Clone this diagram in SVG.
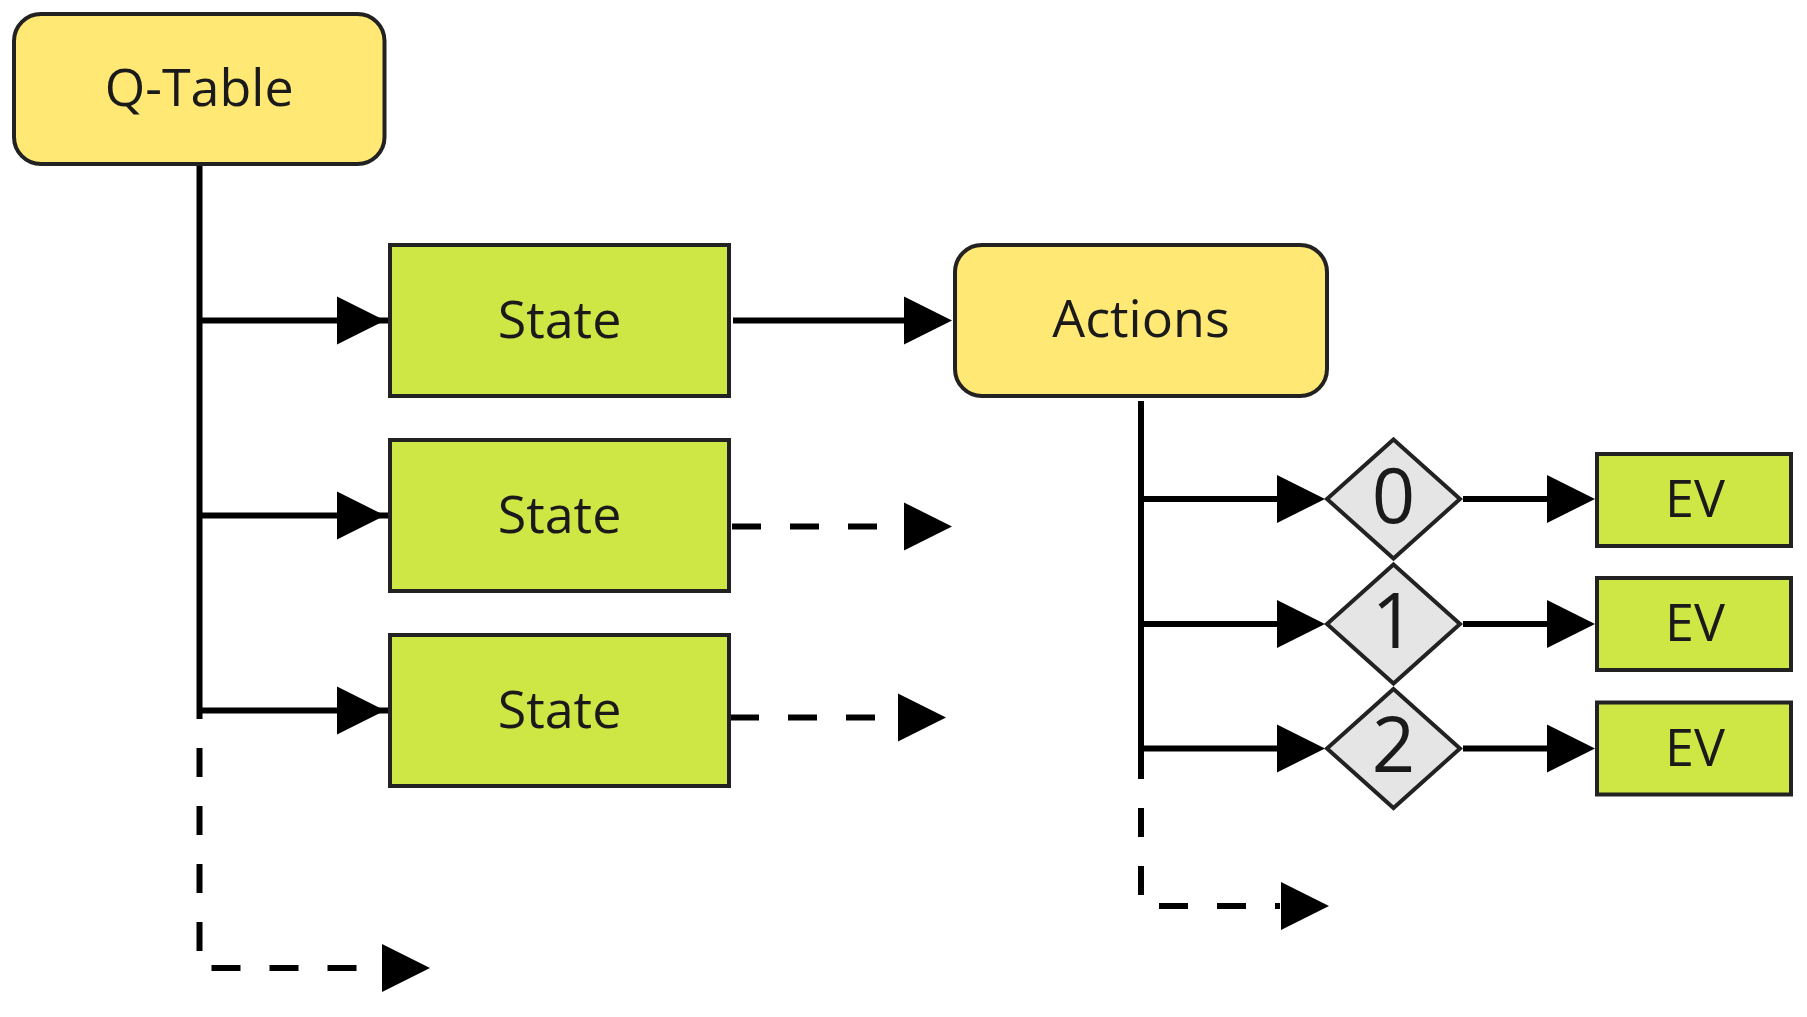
<svg xmlns="http://www.w3.org/2000/svg" xmlns:xlink="http://www.w3.org/1999/xlink" width="1807" height="1017" viewBox="0 0 1807 1017">
  <style>
    .term { fill: #ffe873; stroke: #222222; stroke-width: 4; }
    .box { fill: #cfe744; stroke: #222222; stroke-width: 4; }
    .choice { fill: #e5e5e5; stroke: #222222; stroke-width: 4; stroke-linejoin: miter; }
    .lbl { font-family: "Open Sans", "Noto Sans", "DejaVu Sans", sans-serif; font-size: 52px; fill: #1a1a1a; text-anchor: middle; }
    .num { font-family: "Open Sans", "Noto Sans", "DejaVu Sans", sans-serif; font-size: 76px; fill: #1a1a1a; text-anchor: middle; }
    .wire { fill: none; stroke: #000000; stroke-width: 6; stroke-linecap: butt; }
    .dash { stroke-dasharray: 29 29; stroke-dashoffset: 29; }
    .head { fill: #000000; }
  </style>
  <defs>
    <!-- filled arrowhead, tip at origin pointing right -->
    <path id="ah" class="head" d="M-48,-24 L0,0 L-48,24 Z"/>
  </defs>

  <rect width="1807" height="1017" fill="#ffffff"/>

  <!-- connectors -->
  <g id="connectors">
    <!-- Q-Table trunk and branches to the states -->
    <path class="wire" d="M199.5,165 V719"/>
    <path class="wire dash" d="M199.5,719 V968 H382"/>
    <use xlink:href="#ah" transform="translate(430,968)"/>

    <path class="wire" d="M199.5,320.5 H389"/>
    <use xlink:href="#ah" transform="translate(385,320.5)"/>
    <path class="wire" d="M199.5,515.5 H389"/>
    <use xlink:href="#ah" transform="translate(385,515.5)"/>
    <path class="wire" d="M199.5,710.5 H389"/>
    <use xlink:href="#ah" transform="translate(385,710.5)"/>

    <!-- state outputs -->
    <path class="wire" d="M733,320.5 H910"/>
    <use xlink:href="#ah" transform="translate(952,320.5)"/>
    <path class="wire" d="M732,526.5 H904" stroke-dasharray="29 29"/>
    <use xlink:href="#ah" transform="translate(952,526.5)"/>
    <path class="wire" d="M730,717.5 H898" stroke-dasharray="29 29"/>
    <use xlink:href="#ah" transform="translate(946,717.5)"/>

    <!-- Actions trunk and branches to the choices -->
    <path class="wire" d="M1141,401 V779"/>
    <path class="wire dash" d="M1141,779 V906 H1280"/>
    <use xlink:href="#ah" transform="translate(1329,906)"/>

    <path class="wire" d="M1141,499 H1285"/>
    <use xlink:href="#ah" transform="translate(1325,499)"/>
    <path class="wire" d="M1141,624 H1285"/>
    <use xlink:href="#ah" transform="translate(1325,624)"/>
    <path class="wire" d="M1141,748.5 H1285"/>
    <use xlink:href="#ah" transform="translate(1325,748.5)"/>

    <!-- choices to EV -->
    <path class="wire" d="M1463,499 H1555"/>
    <use xlink:href="#ah" transform="translate(1595,499)"/>
    <path class="wire" d="M1463,624 H1555"/>
    <use xlink:href="#ah" transform="translate(1595,624)"/>
    <path class="wire" d="M1463,748.5 H1555"/>
    <use xlink:href="#ah" transform="translate(1595,748.5)"/>
  </g>

  <!-- nodes -->
  <g id="qtable">
    <rect class="term" x="14" y="14" width="370.5" height="150" rx="27" ry="27"/>
    <text class="lbl" x="199.2" y="106">Q-Table</text>
  </g>

  <g id="state1">
    <rect class="box" x="390" y="245" width="339" height="151"/>
    <text class="lbl" x="559.5" y="337.7">State</text>
  </g>
  <g id="state2">
    <rect class="box" x="390" y="440" width="339" height="151"/>
    <text class="lbl" x="559.5" y="532.7">State</text>
  </g>
  <g id="state3">
    <rect class="box" x="390" y="635" width="339" height="151"/>
    <text class="lbl" x="559.5" y="727.7">State</text>
  </g>

  <g id="actions">
    <rect class="term" x="955" y="245" width="372" height="151" rx="27" ry="27"/>
    <text class="lbl" x="1141" y="337">Actions</text>
  </g>

  <g id="choice0">
    <polygon class="choice" points="1393.5,439.5 1460,499 1393.5,558.5 1327,499"/>
    <text class="num" x="1393.5" y="523">0</text>
  </g>
  <g id="choice1">
    <polygon class="choice" points="1393.5,564.5 1460,624 1393.5,683.5 1327,624"/>
    <text class="num" x="1393.5" y="648">1</text>
  </g>
  <g id="choice2">
    <polygon class="choice" points="1393.5,689 1460,748.5 1393.5,808 1327,748.5"/>
    <text class="num" x="1393.5" y="772">2</text>
  </g>

  <g id="ev0">
    <rect class="box" x="1597" y="454" width="194" height="92"/>
    <text class="lbl" x="1695" y="517">EV</text>
  </g>
  <g id="ev1">
    <rect class="box" x="1597" y="578" width="194" height="92"/>
    <text class="lbl" x="1695" y="641">EV</text>
  </g>
  <g id="ev2">
    <rect class="box" x="1597" y="702.5" width="194" height="92"/>
    <text class="lbl" x="1695" y="765.5">EV</text>
  </g>
</svg>
